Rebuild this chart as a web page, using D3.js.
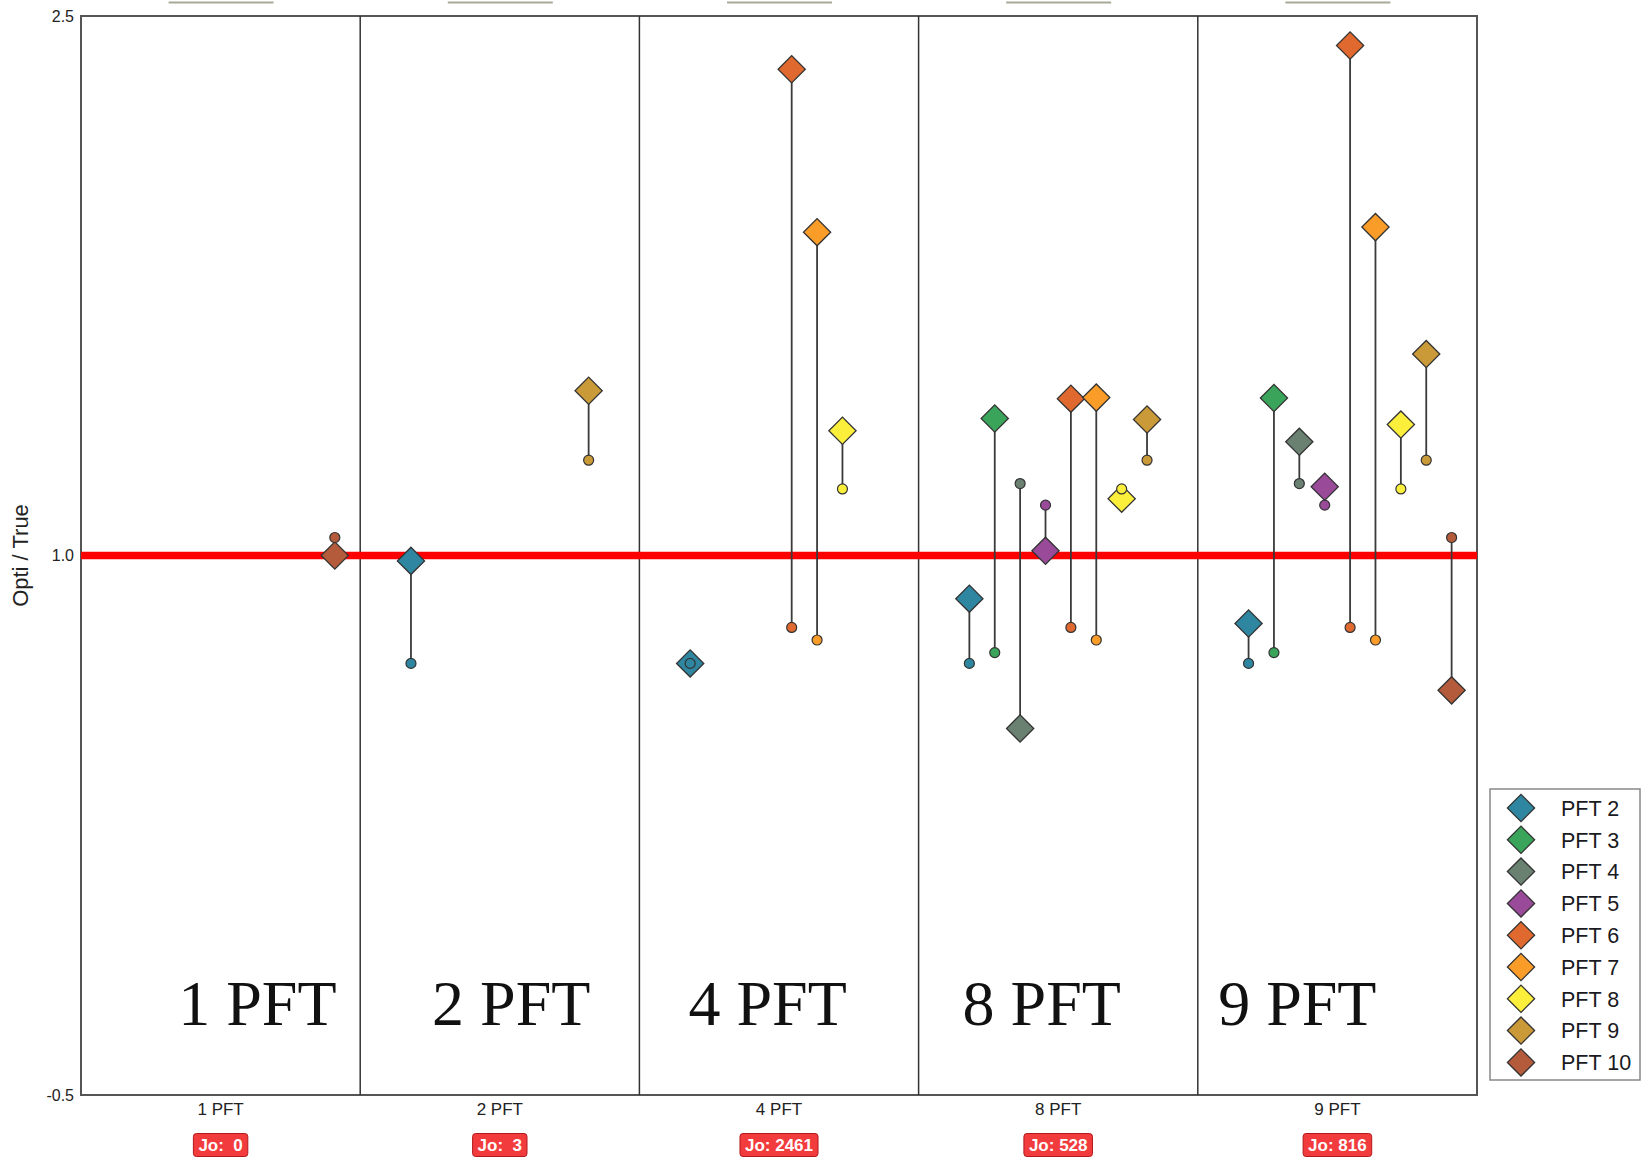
<!DOCTYPE html>
<html>
<head>
<meta charset="utf-8">
<script src="https://d3js.org/d3.v7.min.js"></script>
<style>
  body { margin: 0; background: #fff; }
  text { font-family: "Liberation Sans", Arial, sans-serif; }
  .big { font-family: "Liberation Serif", "Times New Roman", serif; font-size: 64px; fill: #111; }
</style>
</head>
<body>
<script>
// data
let panels = ["1 PFT", "2 PFT", "4 PFT", "8 PFT", "9 PFT"];
let joValues = [0, 3, 2461, 528, 816];
let pftIds = [2, 3, 4, 5, 6, 7, 8, 9, 10];
let pftNames = ["PFT 2", "PFT 3", "PFT 4", "PFT 5", "PFT 6", "PFT 7", "PFT 8", "PFT 9", "PFT 10"];
let pftColors = ["#2f86a0", "#3aa55a", "#6a8070", "#994a99", "#e0692f", "#fa9c28", "#fbef3c", "#cb9a38", "#b35b3b"];
// true value for each PFT (small circles)
let trueValues = [0.70, 0.73, 1.20, 1.14, 0.80, 0.765, 1.185, 1.265, 1.05];
// opti value for each panel and PFT (diamonds), null = not in that run
let optiValues = [
  [null, null, null, null, null, null, null, null, 1.0],
  [0.985, null, null, null, null, null, null, 1.458, null],
  [0.70, null, null, null, 2.352, 1.899, 1.347, null, null],
  [0.88, 1.381, 0.519, 1.013, 1.436, 1.439, 1.158, 1.378, null],
  [0.811, 1.438, 1.316, 1.191, 2.418, 1.913, 1.364, 1.56, 0.625]
];
let yTicks = [-0.5, 1.0, 2.5];
let refValue = 1.0;

// layout
let W = 1646, H = 1158;
let plotLeft = 81, plotRight = 1477, plotTop = 16, plotBottom = 1095;
let slots = 11;
let bigLabelSlot = [6.95, 5.95, 5.05, 4.85, 3.92];

let svg = d3.select("body").append("svg")
  .attr("width", W)
  .attr("height", H);

let xPanel = d3.scaleBand().domain(panels).range([plotLeft, plotRight]).paddingInner(0).paddingOuter(0);
let xSlot = d3.scaleLinear().domain([0, slots]).range([0, xPanel.bandwidth()]);
let y = d3.scaleLinear().domain([-0.5, 2.5]).range([plotBottom, plotTop]);

// cut-off title bars at the top
svg.selectAll("line.titlebar").data(panels).enter().append("line")
  .attr("class", "titlebar")
  .attr("x1", d => xPanel(d) + xPanel.bandwidth() / 2 - 52)
  .attr("x2", d => xPanel(d) + xPanel.bandwidth() / 2 + 53)
  .attr("y1", 2.5).attr("y2", 2.5)
  .attr("stroke", "#a9a99a")
  .attr("stroke-width", 2);

// frame
svg.append("rect")
  .attr("x", plotLeft).attr("y", plotTop)
  .attr("width", plotRight - plotLeft).attr("height", plotBottom - plotTop)
  .attr("fill", "none")
  .attr("stroke", "#555")
  .attr("stroke-width", 2);

// panel dividers
svg.selectAll("line.divider").data(panels.slice(1)).enter().append("line")
  .attr("class", "divider")
  .attr("x1", d => xPanel(d)).attr("x2", d => xPanel(d))
  .attr("y1", plotTop).attr("y2", plotBottom)
  .attr("stroke", "#333")
  .attr("stroke-width", 1.5);

// y axis
let yAxis = svg.append("g")
  .attr("transform", `translate(${plotLeft},0)`)
  .call(d3.axisLeft(y).tickValues(yTicks).tickSize(0).tickPadding(7).tickFormat(d => d.toFixed(1)));
yAxis.select(".domain").remove();
yAxis.selectAll("text")
  .attr("font-size", 16)
  .attr("font-family", "Liberation Sans, Arial, sans-serif")
  .attr("fill", "#222");

svg.append("text")
  .attr("transform", `translate(28,${y(refValue)}) rotate(-90)`)
  .attr("text-anchor", "middle")
  .attr("font-size", 22)
  .attr("fill", "#222")
  .text("Opti / True");

// x axis (panel names)
let xAxis = svg.append("g")
  .attr("transform", `translate(0,${plotBottom})`)
  .call(d3.axisBottom(xPanel).tickSize(0).tickPadding(8));
xAxis.select(".domain").remove();
xAxis.selectAll("text")
  .attr("font-size", 17)
  .attr("font-family", "Liberation Sans, Arial, sans-serif")
  .attr("fill", "#222");

// Jo badges
let jo = svg.selectAll("g.jo").data(panels).enter().append("g")
  .attr("class", "jo")
  .attr("transform", d => `translate(${xPanel(d) + xPanel.bandwidth() / 2},1145)`);
jo.append("rect").attr("class", "badge");
jo.append("text")
  .attr("text-anchor", "middle")
  .attr("dy", "0.36em")
  .attr("font-size", 17)
  .attr("font-weight", "bold")
  .attr("fill", "#fff")
  .style("white-space", "pre")
  .text((d, i) => joValues[i] < 10 ? "Jo:  " + joValues[i] : "Jo: " + joValues[i]);
jo.each(function() {
  let g = d3.select(this);
  let bb = g.select("text").node().getBBox();
  g.select("rect")
    .attr("x", -bb.width / 2 - 5).attr("y", -11.5)
    .attr("width", bb.width + 10).attr("height", 23)
    .attr("rx", 3)
    .attr("fill", "#f23b3d")
    .attr("stroke", "#b3191c")
    .attr("stroke-width", 1);
});

// big panel labels
svg.selectAll("text.big").data(panels).enter().append("text")
  .attr("class", "big")
  .attr("x", (d, i) => xPanel(d) + xSlot(bigLabelSlot[i]))
  .attr("y", 1025)
  .attr("text-anchor", "middle")
  .text(d => d);

// reference line
svg.append("line")
  .attr("x1", plotLeft).attr("x2", plotRight)
  .attr("y1", y(refValue)).attr("y2", y(refValue))
  .attr("stroke", "#ff0000")
  .attr("stroke-width", 7.5);

// marks
let marks = [];
optiValues.forEach((row, p) => {
  row.forEach((v, k) => {
    if (v !== null) marks.push({ panel: panels[p], k: k, opti: v, truth: trueValues[k] });
  });
});
let mx = d => xPanel(d.panel) + xSlot(pftIds[d.k]);

let diamond = d3.symbol().type(d3.symbolSquare).size(370);

svg.selectAll("line.stem").data(marks).enter().append("line")
  .attr("class", "stem")
  .attr("x1", mx).attr("x2", mx)
  .attr("y1", d => y(d.opti)).attr("y2", d => y(d.truth))
  .attr("stroke", "#3a3a3a")
  .attr("stroke-width", 1.8);

svg.selectAll("path.opti").data(marks).enter().append("path")
  .attr("class", "opti")
  .attr("d", diamond)
  .attr("transform", d => `translate(${mx(d)},${y(d.opti)}) rotate(45)`)
  .attr("fill", d => pftColors[d.k])
  .attr("stroke", "#333")
  .attr("stroke-width", 1.3);

svg.selectAll("circle.truth").data(marks).enter().append("circle")
  .attr("class", "truth")
  .attr("cx", mx)
  .attr("cy", d => y(d.truth))
  .attr("r", 5)
  .attr("fill", d => pftColors[d.k])
  .attr("stroke", "#333")
  .attr("stroke-width", 1.2);

// legend
let legend = svg.append("g").attr("transform", "translate(1490,789)");
legend.append("rect")
  .attr("width", 150).attr("height", 291)
  .attr("fill", "#fff")
  .attr("stroke", "#888")
  .attr("stroke-width", 1.5);
let item = legend.selectAll("g.item").data(pftNames).enter().append("g")
  .attr("class", "item")
  .attr("transform", (d, i) => `translate(0,${19 + i * 31.8})`);
item.append("path")
  .attr("d", diamond)
  .attr("transform", "translate(31,0) rotate(45)")
  .attr("fill", (d, i) => pftColors[i])
  .attr("stroke", "#333")
  .attr("stroke-width", 1.3);
item.append("text")
  .attr("x", 71)
  .attr("dy", "0.36em")
  .attr("font-size", 21.5)
  .attr("fill", "#1a1a22")
  .text(d => d);
</script>
</body>
</html>
